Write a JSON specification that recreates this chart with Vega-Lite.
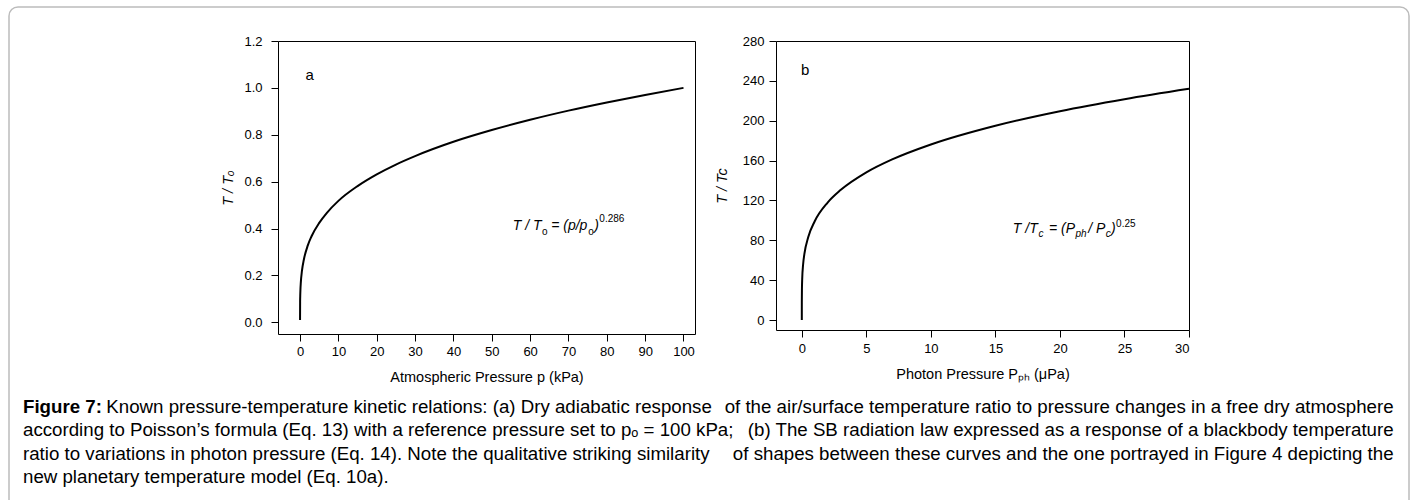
{
  "$schema": "https://vega.github.io/schema/vega-lite/v6.json",
  "padding": {"left": 8, "top": 6, "right": 0, "bottom": 0},
  "background": "#ffffff",
  "bounds": "flush",
  "spacing": 81,
  "config": {
    "view": {"stroke": null},
    "font": "Liberation Sans",
    "axis": {
      "domain": false, "grid": false, "tickColor": "#000", "tickSize": 7,
      "labelColor": "#000", "titleColor": "#000",
      "labelFont": "Liberation Sans", "titleFont": "Liberation Sans",
      "labelFontSize": 13, "titleFontSize": 14.5, "titleFontWeight": "normal"
    }
  },
  "datasets": {
    "curveA": [
      {"p": 0, "t": 0.01}, {"p": 0.02, "t": 0.088}, {"p": 0.05, "t": 0.114}, {"p": 0.1, "t": 0.139},
      {"p": 0.2, "t": 0.169}, {"p": 0.5, "t": 0.22}, {"p": 1, "t": 0.268}, {"p": 2, "t": 0.327},
      {"p": 3, "t": 0.367}, {"p": 5, "t": 0.424}, {"p": 7, "t": 0.467}, {"p": 10, "t": 0.518},
      {"p": 15, "t": 0.581}, {"p": 20, "t": 0.631}, {"p": 25, "t": 0.673}, {"p": 30, "t": 0.709},
      {"p": 40, "t": 0.77}, {"p": 50, "t": 0.82}, {"p": 60, "t": 0.864}, {"p": 70, "t": 0.903},
      {"p": 80, "t": 0.938}, {"p": 90, "t": 0.97}, {"p": 100, "t": 1.0}
    ],
    "curveB": [
      {"P": 0, "t": 0}, {"P": 0.0001, "t": 9.9}, {"P": 0.001, "t": 17.6}, {"P": 0.01, "t": 31.3},
      {"P": 0.03, "t": 41.2}, {"P": 0.1, "t": 55.7}, {"P": 0.2, "t": 66.3}, {"P": 0.5, "t": 83.3},
      {"P": 1, "t": 99.1}, {"P": 2, "t": 117.9}, {"P": 3, "t": 130.4}, {"P": 5, "t": 148.2},
      {"P": 7, "t": 161.2}, {"P": 10, "t": 176.2}, {"P": 15, "t": 195.0}, {"P": 20, "t": 209.6},
      {"P": 25, "t": 221.6}, {"P": 30, "t": 232.0}
    ],
    "mainA": [
      {"p": 55.5, "t": 0.41, "text": "T / T"},
      {"p": 65.5, "t": 0.41, "text": "= (p/p"},
      {"p": 76.73, "t": 0.41, "text": ")"}
    ],
    "subA": [
      {"p": 63.1, "t": 0.385, "text": "o"},
      {"p": 75.15, "t": 0.385, "text": "o"}
    ],
    "supA": [
      {"p": 78.05, "t": 0.44, "text": "0.286"}
    ],
    "labelA": [{"p": 2.5, "t": 1.054, "text": "a"}],
    "mainB": [
      {"P": 16.35, "t": 91.8, "text": "T /T"},
      {"P": 19.15, "t": 91.8, "text": "= (P"},
      {"P": 22.2, "t": 91.8, "text": "/ P"},
      {"P": 23.96, "t": 91.8, "text": ")"}
    ],
    "subB": [
      {"P": 18.33, "t": 86.0, "text": "c"},
      {"P": 21.2, "t": 86.0, "text": "ph"},
      {"P": 23.54, "t": 86.0, "text": "c"}
    ],
    "supB": [
      {"P": 24.35, "t": 96.8, "text": "0.25"}
    ],
    "labelB": [{"P": 0.26, "t": 251, "text": "b"}],
    "capBold": [{"pos": 0.01, "line": 1, "text": "Figure 7:"}],
    "capLeft": [
      {"pos": 0.0695, "line": 1, "text": "Known pressure-temperature kinetic relations: (a) Dry adiabatic response"},
      {"pos": 0.01, "line": 2, "text": "according to Poisson’s formula (Eq. 13) with a reference pressure set to pₒ = 100 kPa;"},
      {"pos": 0.01, "line": 3, "text": "ratio to variations in photon pressure (Eq. 14). Note the qualitative striking similarity"},
      {"pos": 0.01, "line": 4, "text": "new planetary temperature model (Eq. 10a)."}
    ],
    "capRight": [
      {"pos": 0.989, "line": 1, "text": "of the air/surface temperature ratio to pressure changes in a free dry atmosphere"},
      {"pos": 0.989, "line": 2, "text": "(b) The SB radiation law expressed as a response of a blackbody temperature"},
      {"pos": 0.989, "line": 3, "text": "of shapes between these curves and the one portrayed in Figure 4 depicting the"}
    ]
  },
  "hconcat": [
    {
      "width": 188,
      "height": 293,
      "layer": [
        {
          "data": {"values": [{}]},
          "mark": {"type": "rect", "filled": false, "stroke": "#bcbcbc", "strokeWidth": 1.5, "cornerRadius": 9},
          "encoding": {
            "x": {"datum": 0, "type": "quantitative", "scale": {"domain": [0, 1], "range": [0, 1400], "nice": false, "zero": false}, "axis": null},
            "x2": {"datum": 1},
            "y": {"datum": -16.15, "type": "quantitative", "scale": {"domain": [-14.69, -2.131], "range": [0, 293], "nice": false, "zero": false}, "axis": null},
            "y2": {"datum": 5.45}
          }
        },
        {
          "data": {"name": "capBold"},
          "mark": {"type": "text", "align": "left", "baseline": "middle", "font": "Liberation Sans", "fontSize": 18.7, "fontWeight": "bold", "color": "#000"},
          "encoding": {
            "x": {"field": "pos", "type": "quantitative"},
            "y": {"field": "line", "type": "quantitative"},
            "text": {"field": "text"}
          }
        },
        {
          "data": {"name": "capLeft"},
          "mark": {"type": "text", "align": "left", "baseline": "middle", "font": "Liberation Sans", "fontSize": 18.7, "color": "#000"},
          "encoding": {
            "x": {"field": "pos", "type": "quantitative"},
            "y": {"field": "line", "type": "quantitative"},
            "text": {"field": "text"}
          }
        },
        {
          "data": {"name": "capRight"},
          "mark": {"type": "text", "align": "right", "baseline": "middle", "font": "Liberation Sans", "fontSize": 18.7, "color": "#000"},
          "encoding": {
            "x": {"field": "pos", "type": "quantitative"},
            "y": {"field": "line", "type": "quantitative"},
            "text": {"field": "text"}
          }
        }
      ]
    },
    {
      "width": 417,
      "height": 293,
      "view": {"stroke": "#000", "strokeWidth": 1},
      "layer": [
        {
          "data": {"name": "curveA"},
          "mark": {"type": "line", "color": "#000", "strokeWidth": 2, "interpolate": "monotone"},
          "encoding": {
            "x": {"field": "p", "type": "quantitative",
              "scale": {"domain": [-5.75, 103], "nice": false, "zero": false},
              "axis": {"values": [0, 10, 20, 30, 40, 50, 60, 70, 80, 90, 100], "title": "Atmospheric Pressure p (kPa)", "labelPadding": 4, "titlePadding": 12}},
            "y": {"field": "t", "type": "quantitative",
              "scale": {"domain": [-0.05, 1.2], "nice": false, "zero": false},
              "axis": {"values": [0, 0.2, 0.4, 0.6, 0.8, 1.0, 1.2], "format": ".1f", "title": "T / Tₒ", "titleFontStyle": "italic", "labelPadding": 9, "titlePadding": 8}}
          }
        },
        {
          "data": {"name": "mainA"},
          "mark": {"type": "text", "align": "left", "baseline": "middle", "fontSize": 14, "fontStyle": "italic", "color": "#000"},
          "encoding": {"x": {"field": "p", "type": "quantitative"}, "y": {"field": "t", "type": "quantitative"}, "text": {"field": "text"}}
        },
        {
          "data": {"name": "subA"},
          "mark": {"type": "text", "align": "left", "baseline": "middle", "fontSize": 10, "color": "#000"},
          "encoding": {"x": {"field": "p", "type": "quantitative"}, "y": {"field": "t", "type": "quantitative"}, "text": {"field": "text"}}
        },
        {
          "data": {"name": "supA"},
          "mark": {"type": "text", "align": "left", "baseline": "middle", "fontSize": 10, "color": "#000"},
          "encoding": {"x": {"field": "p", "type": "quantitative"}, "y": {"field": "t", "type": "quantitative"}, "text": {"field": "text"}}
        },
        {
          "data": {"name": "labelA"},
          "mark": {"type": "text", "align": "center", "baseline": "middle", "fontSize": 15, "color": "#000"},
          "encoding": {"x": {"field": "p", "type": "quantitative"}, "y": {"field": "t", "type": "quantitative"}, "text": {"field": "text"}}
        }
      ]
    },
    {
      "width": 413,
      "height": 289,
      "view": {"stroke": "#000", "strokeWidth": 1},
      "layer": [
        {
          "data": {"name": "curveB"},
          "mark": {"type": "line", "color": "#000", "strokeWidth": 2, "interpolate": "monotone"},
          "encoding": {
            "x": {"field": "P", "type": "quantitative",
              "scale": {"domain": [-2, 30], "nice": false, "zero": false},
              "axis": {"values": [0, 5, 10, 15, 20, 25, 30], "title": "Photon Pressure Pₚₕ (μPa)", "labelPadding": 5, "titlePadding": 12}},
            "y": {"field": "t", "type": "quantitative",
              "scale": {"domain": [-10, 280], "nice": false, "zero": false},
              "axis": {"values": [0, 40, 80, 120, 160, 200, 240, 280], "title": "T / Tc", "titleFontStyle": "italic", "labelPadding": 5, "titlePadding": 13}}
          }
        },
        {
          "data": {"name": "mainB"},
          "mark": {"type": "text", "align": "left", "baseline": "middle", "fontSize": 14, "fontStyle": "italic", "color": "#000"},
          "encoding": {"x": {"field": "P", "type": "quantitative"}, "y": {"field": "t", "type": "quantitative"}, "text": {"field": "text"}}
        },
        {
          "data": {"name": "subB"},
          "mark": {"type": "text", "align": "left", "baseline": "middle", "fontSize": 10, "fontStyle": "italic", "color": "#000"},
          "encoding": {"x": {"field": "P", "type": "quantitative"}, "y": {"field": "t", "type": "quantitative"}, "text": {"field": "text"}}
        },
        {
          "data": {"name": "supB"},
          "mark": {"type": "text", "align": "left", "baseline": "middle", "fontSize": 10, "color": "#000"},
          "encoding": {"x": {"field": "P", "type": "quantitative"}, "y": {"field": "t", "type": "quantitative"}, "text": {"field": "text"}}
        },
        {
          "data": {"name": "labelB"},
          "mark": {"type": "text", "align": "center", "baseline": "middle", "fontSize": 15, "color": "#000"},
          "encoding": {"x": {"field": "P", "type": "quantitative"}, "y": {"field": "t", "type": "quantitative"}, "text": {"field": "text"}}
        }
      ]
    }
  ]
}
